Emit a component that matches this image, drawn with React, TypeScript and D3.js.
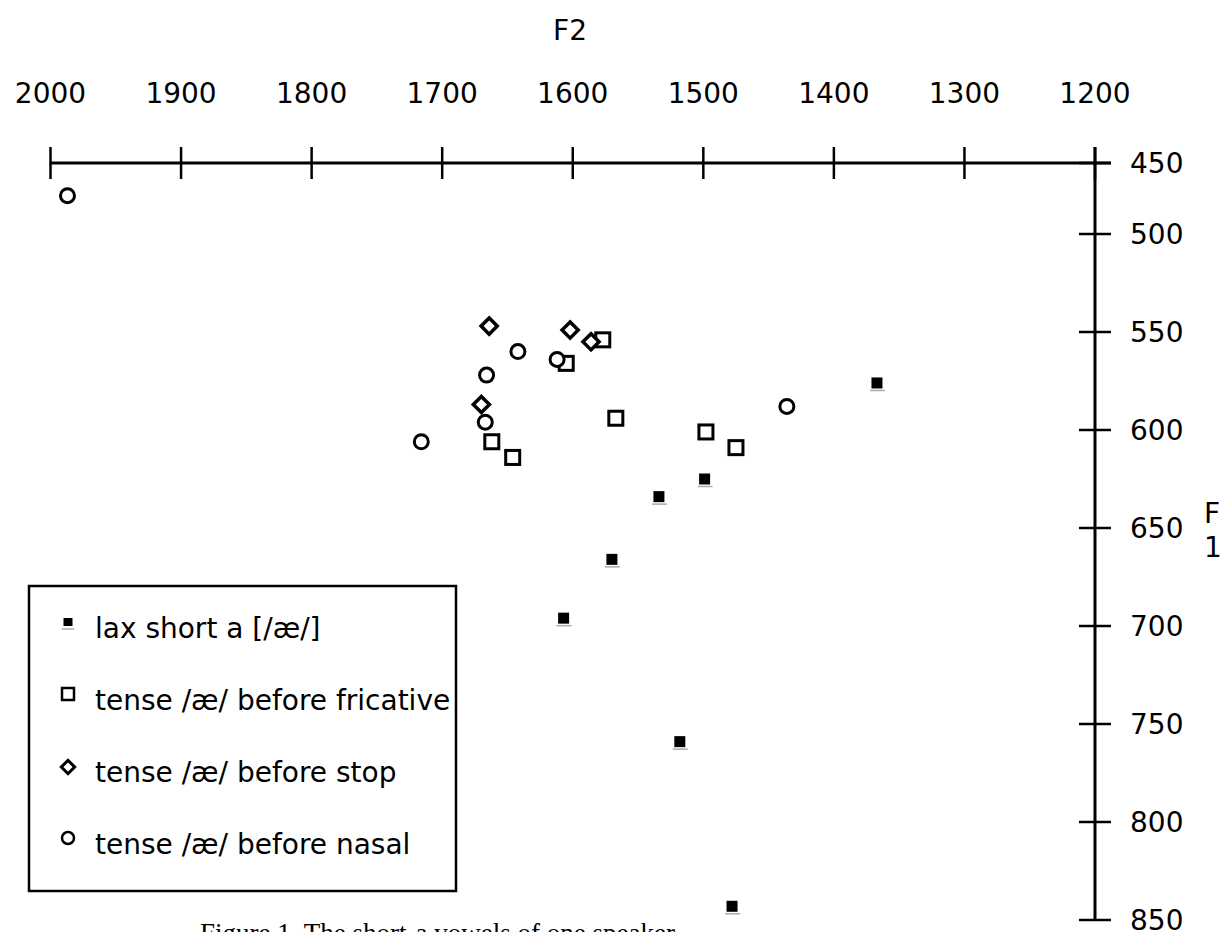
import React, { useEffect, useRef } from 'react';
import * as d3 from 'd3';

// F2 / F1 readings (Hz)
const laxF2 = [1367, 1499, 1534, 1570, 1607, 1518, 1478];
const laxF1 = [576, 625, 634, 666, 696, 759, 843];

const fricF2 = [1577, 1605, 1567, 1662, 1646, 1498, 1475];
const fricF1 = [554, 566, 594, 606, 614, 601, 609];

const stopF2 = [1664, 1602, 1586, 1670];
const stopF1 = [547, 549, 555, 587];

const nasalF2 = [1987, 1642, 1612, 1666, 1667, 1716, 1436];
const nasalF1 = [473, 560, 564, 572, 596, 606, 588];

const f2Ticks = [2000, 1900, 1800, 1700, 1600, 1500, 1400, 1300, 1200];
const f1Ticks = [450, 500, 550, 600, 650, 700, 750, 800, 850];

const legendLabels = [
  'lax short a [/æ/]',
  'tense /æ/ before fricative',
  'tense /æ/ before stop',
  'tense /æ/ before nasal',
];

const caption = 'Figure 1. The short-a vowels of one speaker';

const W = 1223;
const H = 932;
const FONT = '"DejaVu Sans", Verdana, sans-serif';

const App = () => {
  const svgRef = useRef<SVGSVGElement | null>(null);

  useEffect(() => {
    if (!svgRef.current) return;
    const svg = d3.select(svgRef.current);
    svg.selectAll('*').remove();

    const x = d3.scaleLinear().domain([2000, 1200]).range([50.5, 1095]);
    // the top segment of the original axis is shorter than the rest
    const y = d3.scaleLinear().domain([450, 500, 850]).range([163, 234, 920]);

    const axisY = y(450);
    const axisX = x(1200);

    // x axis (top)
    svg.append('line')
      .attr('x1', x(2000)).attr('x2', axisX + 16)
      .attr('y1', axisY).attr('y2', axisY)
      .attr('stroke', '#000').attr('stroke-width', 3);
    svg.selectAll('.xtick').data(f2Ticks).join('line')
      .attr('x1', d => x(d)).attr('x2', d => x(d))
      .attr('y1', axisY - 16).attr('y2', axisY + 16)
      .attr('stroke', '#000').attr('stroke-width', 2.5);
    svg.selectAll('.xlab').data(f2Ticks).join('text')
      .attr('x', d => x(d)).attr('y', 103)
      .attr('text-anchor', 'middle')
      .attr('font-family', FONT).attr('font-size', 28)
      .text(d => d);
    svg.append('text')
      .attr('x', 570).attr('y', 40)
      .attr('text-anchor', 'middle')
      .attr('font-family', FONT).attr('font-size', 28)
      .text('F2');

    // y axis (right)
    svg.append('line')
      .attr('x1', axisX).attr('x2', axisX)
      .attr('y1', axisY - 16).attr('y2', y(850))
      .attr('stroke', '#000').attr('stroke-width', 3);
    svg.selectAll('.ytick').data(f1Ticks).join('line')
      .attr('x1', axisX - 16).attr('x2', axisX + 16)
      .attr('y1', d => y(d)).attr('y2', d => y(d))
      .attr('stroke', '#000').attr('stroke-width', 2.5);
    svg.selectAll('.ylab').data(f1Ticks).join('text')
      .attr('x', 1130).attr('y', d => y(d) + 10)
      .attr('font-family', FONT).attr('font-size', 28)
      .text(d => d);
    svg.append('text')
      .attr('x', 1204).attr('y', 523)
      .attr('font-family', FONT).attr('font-size', 28)
      .text('F');
    svg.append('text')
      .attr('x', 1204).attr('y', 557)
      .attr('font-family', FONT).attr('font-size', 28)
      .text('1');

    // lax: filled squares with a grey under-rule
    const lax = d3.zip(laxF2, laxF1);
    svg.selectAll('.laxline').data(lax).join('line')
      .attr('x1', d => x(d[0]) - 7).attr('x2', d => x(d[0]) + 8)
      .attr('y1', d => y(d[1]) + 7.5).attr('y2', d => y(d[1]) + 7.5)
      .attr('stroke', '#aaa').attr('stroke-width', 1.5);
    svg.selectAll('.lax').data(lax).join('rect')
      .attr('x', d => x(d[0]) - 5.5).attr('y', d => y(d[1]) - 5.5)
      .attr('width', 11).attr('height', 11)
      .attr('fill', '#000');

    // tense before fricative: hollow squares
    svg.selectAll('.fric').data(d3.zip(fricF2, fricF1)).join('rect')
      .attr('x', d => x(d[0]) - 7).attr('y', d => y(d[1]) - 7)
      .attr('width', 14).attr('height', 14)
      .attr('fill', '#fff').attr('stroke', '#000').attr('stroke-width', 3);

    // tense before stop: diamonds
    const diamond = d3.symbol().type(d3.symbolSquare).size(130);
    svg.selectAll('.stop').data(d3.zip(stopF2, stopF1)).join('path')
      .attr('d', diamond)
      .attr('transform', d => `translate(${x(d[0])},${y(d[1])}) rotate(45)`)
      .attr('fill', '#fff').attr('stroke', '#000').attr('stroke-width', 3.5);

    // tense before nasal: circles
    svg.selectAll('.nasal').data(d3.zip(nasalF2, nasalF1)).join('circle')
      .attr('cx', d => x(d[0])).attr('cy', d => y(d[1])).attr('r', 7)
      .attr('fill', '#fff').attr('stroke', '#000').attr('stroke-width', 3);

    // legend
    const lg = svg.append('g');
    lg.append('rect')
      .attr('x', 29).attr('y', 586).attr('width', 427).attr('height', 305)
      .attr('fill', '#fff').attr('stroke', '#000').attr('stroke-width', 2.5);
    const rowY = d3.scaleLinear().domain([0, 3]).range([628, 844]);
    const sx = 68;
    lg.append('line')
      .attr('x1', sx - 6).attr('x2', sx + 6)
      .attr('y1', rowY(0) + 1).attr('y2', rowY(0) + 1)
      .attr('stroke', '#aaa').attr('stroke-width', 1.5);
    lg.append('rect')
      .attr('x', sx - 4.5).attr('y', rowY(0) - 10).attr('width', 9).attr('height', 8)
      .attr('fill', '#000');
    lg.append('rect')
      .attr('x', sx - 6).attr('y', rowY(1) - 12).attr('width', 12).attr('height', 12)
      .attr('fill', '#fff').attr('stroke', '#000').attr('stroke-width', 2.5);
    lg.append('path')
      .attr('d', d3.symbol().type(d3.symbolSquare).size(90))
      .attr('transform', `translate(${sx},${rowY(2) - 5}) rotate(45)`)
      .attr('fill', '#fff').attr('stroke', '#000').attr('stroke-width', 3);
    lg.append('circle')
      .attr('cx', sx).attr('cy', rowY(3) - 6).attr('r', 6)
      .attr('fill', '#fff').attr('stroke', '#000').attr('stroke-width', 2.5);
    lg.selectAll('.lgtext').data(legendLabels).join('text')
      .attr('x', 95).attr('y', (d, i) => rowY(i) + 10)
      .attr('font-family', FONT).attr('font-size', 28)
      .text(d => d);

    // caption, cut off at the bottom edge as in the original
    svg.append('text')
      .attr('x', 200).attr('y', 942)
      .attr('font-family', '"Liberation Serif", "Times New Roman", serif')
      .attr('font-size', 27)
      .text(caption);
  }, []);

  return (
    <svg
      ref={svgRef}
      width={W}
      height={H}
      style={{ position: 'absolute', left: 0, top: 0, background: '#fff' }}
    />
  );
};

export default App;
